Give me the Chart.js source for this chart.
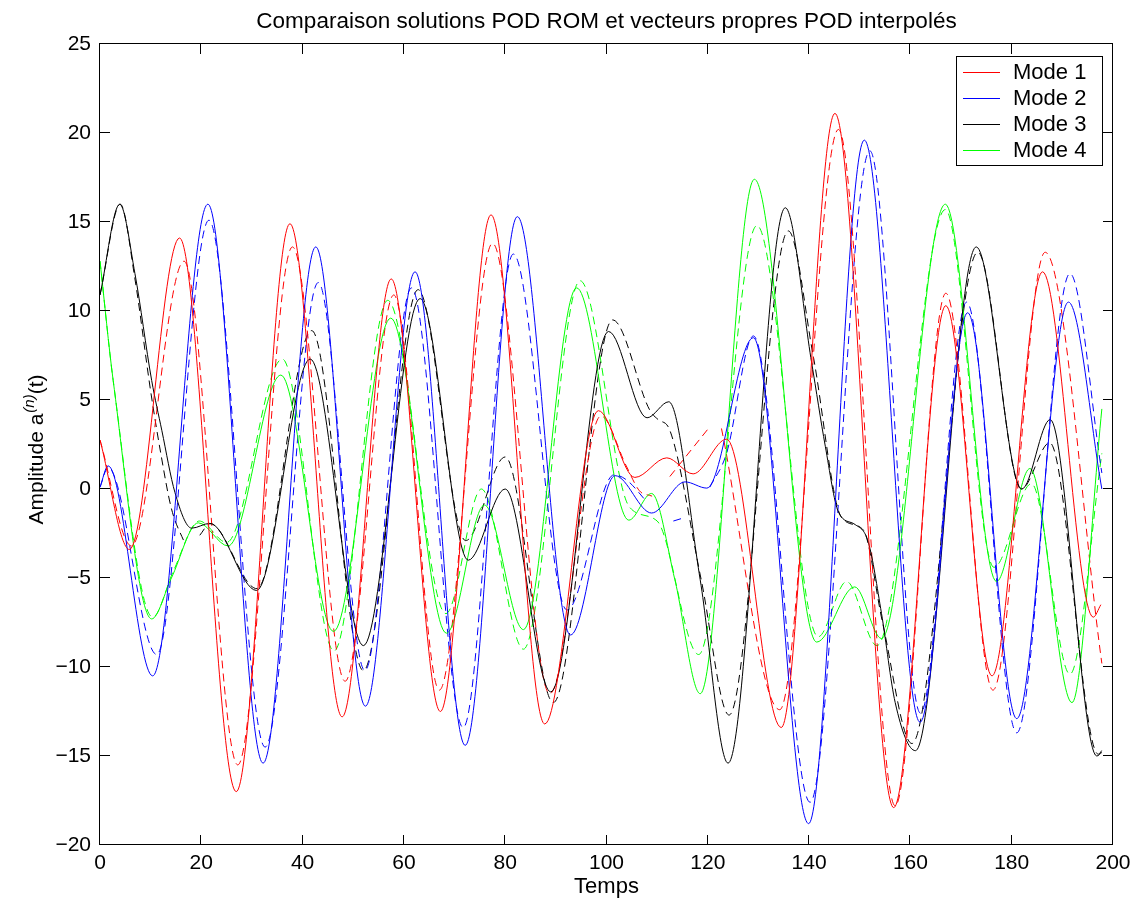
<!DOCTYPE html>
<html>
<head>
<meta charset="utf-8">
<script src="https://cdn.jsdelivr.net/npm/chart.js@4.4.1/dist/chart.umd.min.js"></script>
<style>
  html, body { margin: 0; padding: 0; background: #fff; }
</style>
</head>
<body>
<canvas id="pod-chart" width="1145" height="902"></canvas>
<script>
// values: each curve given by its turning points (time, amplitude)
// solid = POD ROM solution, dashed = interpolated POD eigenvectors; null = break in the dashed line

const mode1Time  = [0, 5.8, 15.7, 26.9, 37.5, 47.8, 57.5, 67.2, 77.2, 87.8, 98.4, 105.6, 111.9, 117.1, 123.7, 134.5, 145.1, 156.7, 167, 176.1, 186.1, 196.1, 197.6]
const mode1Rom   = [2.75, -3.4, 14.1, -17.0, 14.9, -12.8, 11.8, -12.5, 15.4, -13.2, 4.4, 0.65, 1.75, 0.85, 2.8, -13.4, 21.1, -17.9, 10.3, -10.5, 12.2, -7.2, -6.5]
const mode1dTime = [0, 6.2, 16.6, 27.2, 38, 48.4, 58, 67, 77.5, 88.8, 98.9, 103.9, 106.5, 109, 110.5, 112.5, 120.4, 121.5, 122.7, 134.2, 145.8, 157, 167, 176.3, 186.6, 197.8]
const mode1Interp = [2.75, -3.2, 12.8, -15.5, 13.6, -10.8, 10.9, -11.3, 13.8, -11.5, 4.1, 1.3, -0.1, -0.4, null, 0.7, 3.5, null, 3.4, -12.4, 20.2, -17.8, 11.0, -11.3, 13.3, -9.8]

const mode2Time  = [0, 1.6, 10.4, 21.3, 32.2, 42.6, 52.4, 62.2, 72.1, 82.4, 92.9, 101.7, 108.9, 115.5, 119.8, 129, 139.9, 150.9, 161.9, 171.3, 181, 191.2, 197.8]
const mode2Rom   = [0.1, 1.3, -10.5, 16.0, -15.4, 13.6, -12.2, 12.2, -14.4, 15.3, -8.2, 0.75, -1.35, 0.4, 0.05, 8.5, -18.8, 19.6, -13.1, 9.9, -12.9, 10.5, 0.0]
const mode2dTime = [0, 1.6, 11.2, 21.5, 32.6, 43.1, 52.3, 61.5, 71.7, 81.6, 92.2, 101.5, 104, 107.9, 110.5, 113.2, 115.5, 117.8, 120.4, 123.7, 129, 140.2, 152, 162, 171.1, 181, 191.5, 197.8]
const mode2Interp = [0.1, 1.2, -9.3, 15.1, -14.5, 11.6, -10.2, 11.3, -13.4, 13.2, -6.8, 0.8, 0.5, -0.7, null, -1.8, -1.6, null, 0.1, 2.0, 8.6, -17.6, 19.0, -12.6, 10.5, -13.7, 12.1, 0.9]

const mode3Time  = [0, 3.9, 6.9, 10.2, 12.2, 14.8, 18.1, 21.7, 30.9, 41.5, 52, 63.2, 72.7, 80, 89, 100.4, 108, 112.3, 118.5, 124, 135.3, 140.5, 143.2, 145.8, 149.1, 151.7, 154.3, 157, 161, 173, 182, 187.6, 196.8, 197.8]
const mode3Rom   = [10.9, 16.0, 12.1, 6.1, 3.3, -0.2, -2.2, -1.93, -5.7, 7.3, -8.8, 10.7, -4.0, 0.0, -11.4, 8.85, 4.0, 4.9, -5.1, -15.4, 15.8, 7.1, 2.4, -1.3, -2.0, -3.0, -7.0, -12.0, -14.7, 13.6, 0.0, 3.9, -15.0, -14.8]
const mode3dTime = [0, 4, 6.9, 10, 12, 14.1, 16.8, 18.2, 19.7, 21.7, 31, 41.8, 52, 62.8, 72.2, 80, 89.5, 101.2, 108.6, 110.2, 112.5, 118.7, 124.2, 135.9, 140.8, 146.4, 150.7, 154.5, 160.3, 173.3, 181.9, 187.5, 197.1, 198]
const mode3Interp = [10.9, 16.0, 11.8, 5.5, 2.0, -1.1, -3.1, null, -2.6, -1.95, -5.6, 8.9, -10.2, 11.2, -2.9, 1.8, -12.0, 9.5, 4.4, 3.9, 3.3, -5.1, -12.7, 14.5, 7.5, -1.6, -2.3, -7.5, -14.3, 13.3, 0.0, 2.6, -14.9, -14.6]

const mode4Time  = [0, 2.6, 10.2, 14.1, 19.4, 25.3, 35.7, 46.1, 57.4, 68.4, 75.9, 83.6, 94.1, 104.4, 108.9, 113.5, 118.5, 129.2, 141.5, 149, 154.3, 166.9, 177, 183.6, 191.9, 197.8]
const mode4Rom   = [12.8, 6.1, -7.3, -5.0, -1.9, -3.2, 6.4, -8.0, 9.6, -8.1, -0.9, -7.9, 11.3, -1.75, -0.25, -5.1, -11.5, 17.4, -8.6, -5.5, -8.4, 16.0, -5.2, 1.15, -12.0, 4.5]
const mode4dTime = [0, 2.6, 10.4, 14.5, 19.6, 25, 36, 46.2, 56.8, 68.3, 75.3, 83.6, 94.8, 104.5, 110, 118.2, 129.7, 141.8, 147.4, 153.4, 166.9, 176.5, 183.9, 191.5, 197.8]
const mode4Interp = [12.8, 6.1, -7.2, -4.6, -1.8, -3.0, 7.3, -9.1, 10.6, -7.0, 0.0, -9.0, 11.7, -1.0, -1.8, -9.3, 14.8, -8.3, -5.2, -8.8, 15.7, -4.4, 0.3, -10.4, 2.0]

const modeNames  = ['Mode 1', 'Mode 2', 'Mode 3', 'Mode 4']
const modeColors = ['#ff0000', '#0000ff', '#000000', '#00ff00']

const xTicks = [0, 20, 40, 60, 80, 100, 120, 140, 160, 180, 200]
const yTicks = [-20, -15, -10, -5, 0, 5, 10, 15, 20, 25]

const chartTitle = 'Comparaison solutions POD ROM et vecteurs propres POD interpolés'
const xTitle = 'Temps'

const FONT = '"Liberation Sans", Arial, Helvetica, sans-serif'


function toPoints(times, values) {  // pair up time and amplitude for the linear x axis
    return times.map(function (t, i) { return { x: t, y: values[i] } })
}

function curve(label, times, values, color, dashed) {
    return {
        label: label,
        data: toPoints(times, values),
        borderColor: color,
        backgroundColor: color,
        borderWidth: 1,
        borderDash: dashed ? [8, 5] : [],
        pointRadius: 0,
        cubicInterpolationMode: 'monotone',
        spanGaps: false,
        fill: false
    }
}

let datasets = [
    curve(modeNames[0], mode1Time, mode1Rom, modeColors[0], false),
    curve(modeNames[1], mode2Time, mode2Rom, modeColors[1], false),
    curve(modeNames[2], mode3Time, mode3Rom, modeColors[2], false),
    curve(modeNames[3], mode4Time, mode4Rom, modeColors[3], false),
    curve(modeNames[0] + ' interp', mode1dTime, mode1Interp, modeColors[0], true),
    curve(modeNames[1] + ' interp', mode2dTime, mode2Interp, modeColors[1], true),
    curve(modeNames[2] + ' interp', mode3dTime, mode3Interp, modeColors[2], true),
    curve(modeNames[3] + ' interp', mode4dTime, mode4Interp, modeColors[3], true)
]


// matlab style box: title over the axes, frame with inward ticks, rotated y label with superscript, legend in the corner
let matlabBox = {
    id: 'matlabBox',
    afterDraw(chart) {
        let ctx = chart.ctx
        let a = chart.chartArea
        let xs = chart.scales.x
        let ys = chart.scales.y
        let tick = 10

        ctx.save()
        ctx.strokeStyle = '#000'
        ctx.lineWidth = 1
        ctx.setLineDash([])

        ctx.beginPath()
        xTicks.forEach(function (v) {
            let px = Math.round(xs.getPixelForValue(v)) - 0.5
            ctx.moveTo(px, a.bottom); ctx.lineTo(px, a.bottom - tick)
            ctx.moveTo(px, a.top); ctx.lineTo(px, a.top + tick)
        })
        yTicks.forEach(function (v) {
            let py = Math.round(ys.getPixelForValue(v)) - 0.5
            ctx.moveTo(a.left, py); ctx.lineTo(a.left + tick, py)
            ctx.moveTo(a.right, py); ctx.lineTo(a.right - tick, py)
        })
        ctx.stroke()
        ctx.strokeRect(a.left - 0.5, a.top - 0.5, a.right - a.left, a.bottom - a.top)

        // title centred over the axes
        ctx.fillStyle = '#000'
        ctx.font = '22.5px ' + FONT
        ctx.textAlign = 'center'
        ctx.textBaseline = 'alphabetic'
        ctx.fillText(chartTitle, (a.left + a.right) / 2, 28)

        // y axis label  "Amplitude a^(n)(t)"
        ctx.textAlign = 'left'
        ctx.translate(43, 450)
        ctx.rotate(-Math.PI / 2)
        let mainFont = '21px ' + FONT
        let supFont = 'italic 15px ' + FONT
        ctx.font = mainFont
        let w1 = ctx.measureText('Amplitude a').width
        let w3 = ctx.measureText('(t)').width
        ctx.font = supFont
        let w2 = ctx.measureText('(n)').width
        let start = -(w1 + w2 + w3) / 2
        ctx.font = mainFont
        ctx.fillText('Amplitude a', start, 0)
        ctx.font = supFont
        ctx.fillText('(n)', start + w1 + 1, -9)
        ctx.font = mainFont
        ctx.fillText('(t)', start + w1 + w2 + 1, 0)
        ctx.setTransform(1, 0, 0, 1, 0, 0)

        // legend
        let box = { left: 956, top: 56, width: 146, height: 109 }
        ctx.fillStyle = '#fff'
        ctx.fillRect(box.left, box.top, box.width, box.height)
        ctx.strokeRect(box.left + 0.5, box.top + 0.5, box.width, box.height)
        ctx.font = '22px ' + FONT
        ctx.textBaseline = 'middle'
        for (let i = 0; i < 4; i++) {
            let rowY = 71.5 + i * 26.3
            ctx.strokeStyle = datasets[i].borderColor
            ctx.beginPath()
            ctx.moveTo(963, Math.round(rowY) + 0.5)
            ctx.lineTo(1000, Math.round(rowY) + 0.5)
            ctx.stroke()
            ctx.fillStyle = '#000'
            ctx.fillText(datasets[i].label, 1013, rowY + 1)
        }
        ctx.restore()
    }
}


let chartCanvas = document.querySelector('#pod-chart')
let ctx = chartCanvas.getContext('2d')

let podChart = new Chart(ctx, {
    type: 'line',
    data: { datasets: datasets },
    options: {
        responsive: false,
        animation: false,
        events: [],
        layout: { padding: { left: 0, right: 32, top: 44, bottom: 0 } },
        plugins: {
            legend: { display: false },
            tooltip: { enabled: false },
            title: { display: false }
        },
        scales: {
            x: {
                type: 'linear',
                min: 0,
                max: 200,
                afterBuildTicks: function (s) { s.ticks = xTicks.map(function (v) { return { value: v } }) },
                ticks: { color: '#000', font: { family: FONT, size: 21 }, padding: 6, maxRotation: 0, autoSkip: false },
                grid: { display: false, drawTicks: false },
                border: { display: false },
                title: { display: true, text: xTitle, color: '#000', font: { family: FONT, size: 22 }, padding: { top: 0, bottom: 2 } },
                afterFit: function (s) { s.height = 57 }
            },
            y: {
                type: 'linear',
                min: -20,
                max: 25,
                afterBuildTicks: function (s) { s.ticks = yTicks.map(function (v) { return { value: v } }) },
                ticks: {
                    color: '#000',
                    font: { family: FONT, size: 21 },
                    padding: 9,
                    autoSkip: false,
                    callback: function (v) { return String(v).replace('-', '\u2212') }
                },
                grid: { display: false, drawTicks: false },
                border: { display: false },
                afterFit: function (s) { s.width = 100 }
            }
        }
    },
    plugins: [matlabBox]
})
</script>
</body>
</html>
